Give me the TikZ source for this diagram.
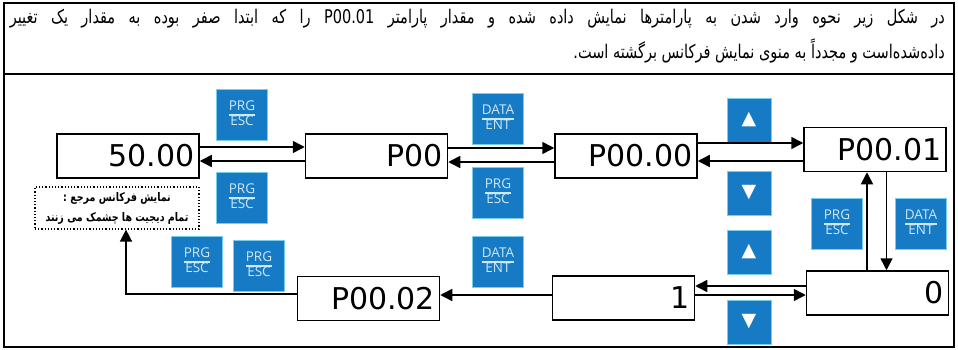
\documentclass[tikz,border=0pt]{standalone}
\usepackage{fontspec}
\usetikzlibrary{arrows.meta,calc}
\TeXXeTstate=1
\newfontfamily\fafont[Script=Arabic]{DejaVu Sans}
\newfontfamily\lcdfont{DejaVu Sans}
\newfontfamily\btnfont{Open Sans}
\newfontfamily\symfont{DejaVu Sans}
\definecolor{btnblue}{RGB}{22,122,196}
\definecolor{btnedge}{RGB}{120,205,235}
\definecolor{btntext}{RGB}{205,232,250}
\newcommand\keylab[2]{{\renewcommand\arraystretch{0.9}\setlength\arrayrulewidth{1.1pt}\begin{tabular}{@{}c@{}}#1\\\hline #2\end{tabular}}}
\begin{document}
\begin{tikzpicture}[x=1pt,y=-1pt,
  disp/.style={draw,line width=1.5pt,minimum width=142pt,minimum height=44pt,inner sep=0pt,
    text width=133pt,align=right,font=\lcdfont\fontsize{30}{30}\selectfont},
  keybtn/.style={fill=btnblue,draw=btnedge,line width=0.8pt,minimum size=#1,inner sep=0pt,
    text=btntext,font=\btnfont\fontsize{13.5}{14}\selectfont},
  keybtn/.default=51pt,
  arrkey/.style={keybtn=44pt,text=white,font=\symfont\fontsize{19}{19}\selectfont},
  conn/.style={line width=1.5pt,-{Triangle[length=12pt,width=12pt]}},
  wire/.style={line width=1.5pt}]
\useasboundingbox (0,0) rectangle (958,350);
% frame
\draw[line width=1.5pt] (4,3) rectangle (954,347);
\draw[line width=1.5pt] (4,74) -- (954,74);
\node[anchor=east,inner sep=0pt,font=\fafont\fontsize{14.5}{16}\selectfont,yscale=1.3] (t1) at (945,19)
  {\hbox to 935pt{\beginR در شکل زیر نحوه وارد شدن به پارامترها نمایش داده شده و مقدار پارامتر \beginL P00.01\endL\ را که ابتدا صفر بوده به مقدار یک تغییر\endR}};
\node[anchor=east,inner sep=0pt,font=\fafont\fontsize{14.5}{16}\selectfont,yscale=1.3] (t2) at (945,51)
  {\beginR داده‌شده‌است و مجدداً به منوی نمایش فرکانس برگشته است.\endR};
% displays
\node[disp] (A) at (128,156) {50.00};
\node[disp] (B) at (376.5,156) {P00};
\node[disp] (C) at (626,156) {P00.00};
\node[disp] (D) at (875,149.5) {P00.01};
\node[disp] (E) at (877.5,293) {0};
\node[disp] (F) at (623.5,298) {1};
\node[disp] (G) at (368.5,298.5) {P00.02};
\node[draw,dotted,line width=1.2pt,minimum width=164pt,minimum height=42pt] (H) at (117,208) {};
\node[align=center,inner sep=0pt,yscale=1.25,
  font=\fafont\bfseries\fontsize{9.5}{16}\selectfont] (Htext) at (H.center)
  {\beginR نمایش فرکانس مرجع :\endR\\\beginR تمام دیجیت ها چشمک می زنند\endR};
% keys
\node[keybtn] (k1) at (242,115) {\keylab{PRG}{ESC}};
\node[keybtn] (k2) at (242,198) {\keylab{PRG}{ESC}};
\node[keybtn] (k3) at (498,119) {\keylab{DATA}{ENT}};
\node[keybtn] (k4) at (498,193) {\keylab{PRG}{ESC}};
\node[arrkey] (k5) at (749,120) {▲};
\node[arrkey] (k6) at (749,193) {▼};
\node[keybtn] (k7) at (837,224) {\keylab{PRG}{ESC}};
\node[keybtn] (k8) at (921,224) {\keylab{DATA}{ENT}};
\node[arrkey] (k9) at (749,252) {▲};
\node[arrkey] (k10) at (749,322) {▼};
\node[keybtn] (k11) at (498,262) {\keylab{DATA}{ENT}};
\node[keybtn] (k12) at (197,262) {\keylab{PRG}{ESC}};
\node[keybtn] (k13) at (259,266) {\keylab{PRG}{ESC}};
% connectors
\draw[conn] ([yshift=9pt]A.east) -- ([yshift=9pt]A.east -| B.west);
\draw[conn] ([yshift=-5pt]B.west) -- ([yshift=-5pt]B.west -| A.east);
\draw[conn] ([yshift=8pt]B.east) -- ([yshift=8pt]B.east -| C.west);
\draw[conn] ([yshift=-6pt]C.west) -- ([yshift=-6pt]C.west -| B.east);
\draw[conn] ([yshift=13pt]C.east) -- ([yshift=13pt]C.east -| D.west);
\draw[conn] ([yshift=-11.5pt]D.west) -- ([yshift=-11.5pt]D.west -| C.east);
\draw[conn] ([xshift=-10.5pt]E.north) -- ([xshift=-10.5pt]E.north |- D.south);
\draw[conn] ([xshift=11.5pt]D.south) -- ([xshift=11.5pt]D.south |- E.north);
\draw[conn] ([yshift=7pt]E.west) -- ([yshift=7pt]E.west -| F.east);
\draw[conn] ([yshift=3pt]F.east) -- ([yshift=3pt]F.east -| E.west);
\draw[conn] ([yshift=3pt]F.west) -- ([yshift=3pt]F.west -| G.east);
\draw[conn] ([yshift=4.5pt]G.west) -| ([xshift=9pt]H.south);
\end{tikzpicture}
\end{document}
